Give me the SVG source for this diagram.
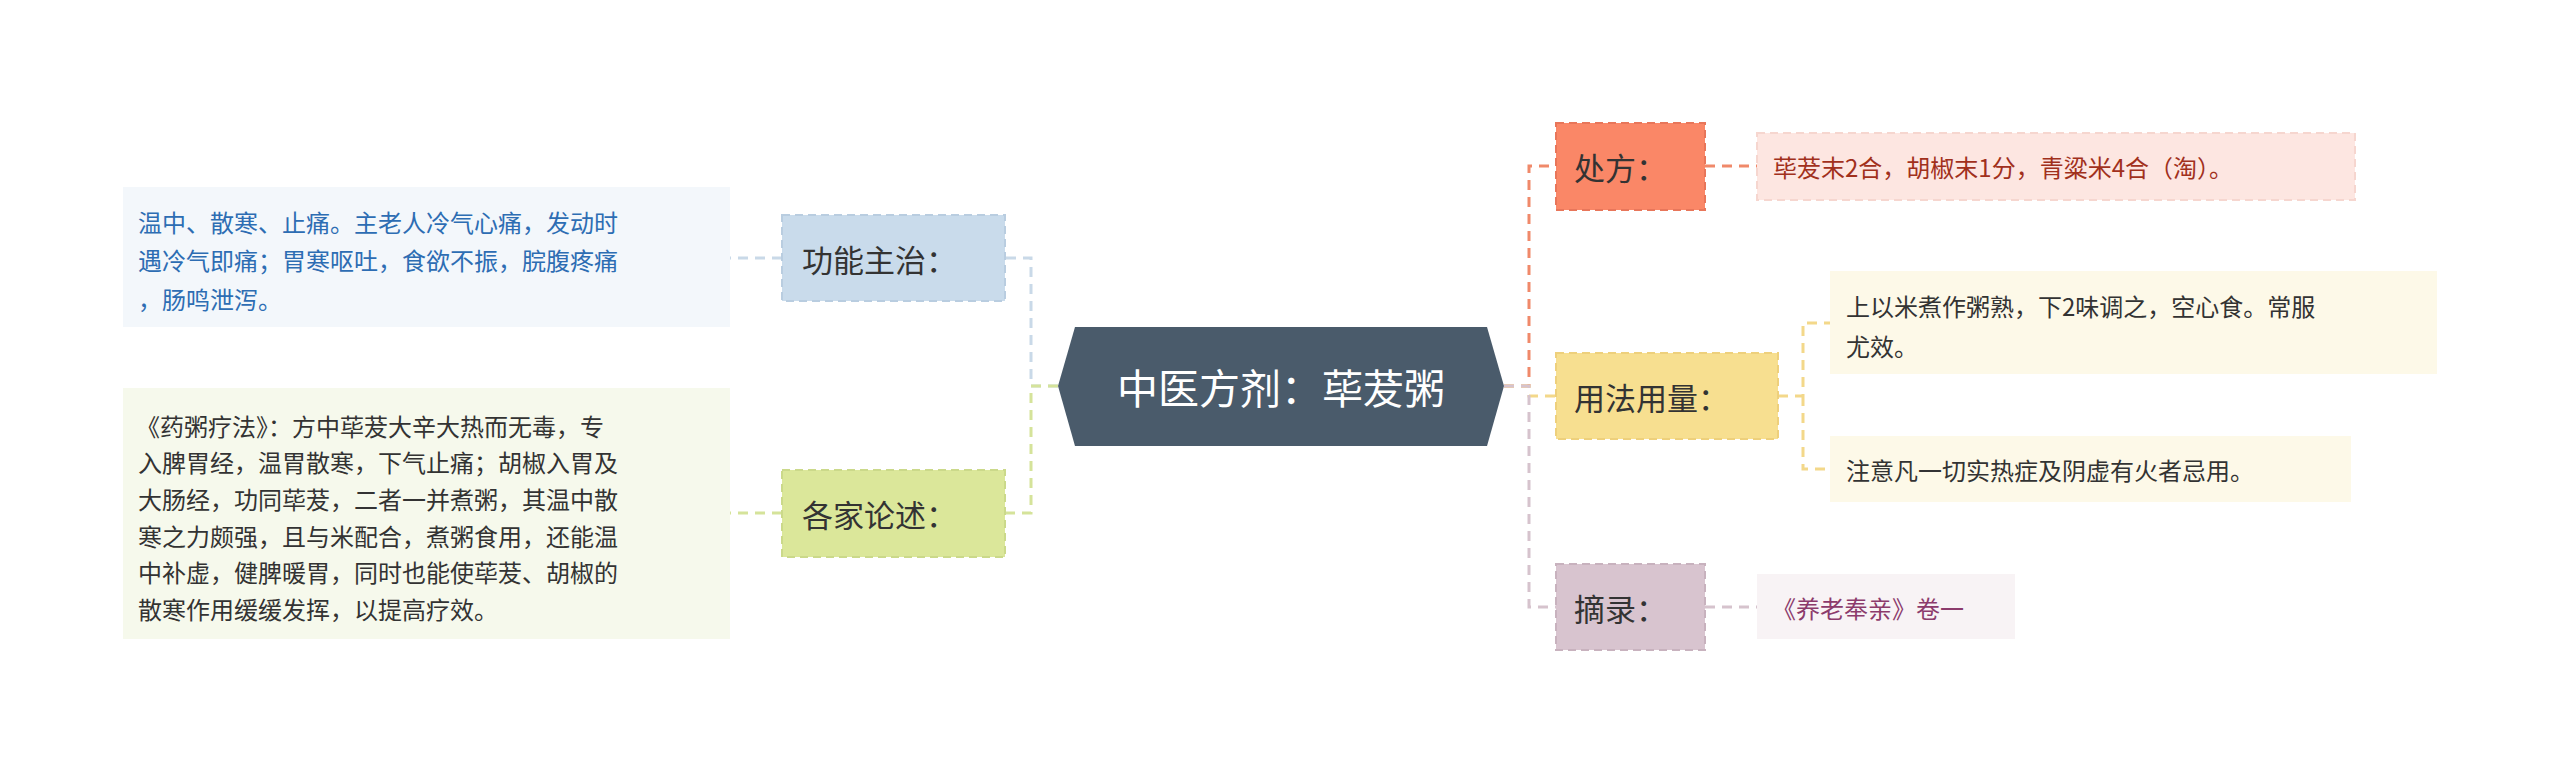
<svg xmlns="http://www.w3.org/2000/svg" width="2560" height="774" viewBox="0 0 2560 774">
<style>
text{font-family:"Noto Sans CJK SC","Noto Sans",sans-serif;dominant-baseline:central}
.n{font-size:31px;fill:#333}
.t{font-size:24px}
.c{fill:none;stroke-width:3;stroke-dasharray:10 7}
.b{stroke-width:2;stroke-dasharray:8 5}
</style>
<rect width="2560" height="774" fill="#fff"/>
<g id="connectors">
<path class="c" stroke="#c9d9e8" d="M1058 386H1031V258H1005"/>
<path class="c" stroke="#d5e39a" d="M1058 386H1031V513H1005"/>
<path class="c" stroke="#c9d9e8" d="M782 258H730"/>
<path class="c" stroke="#d5e39a" d="M782 513H730"/>
<path class="c" stroke="#f0896a" d="M1504 386H1529V166H1556"/>
<path class="c" stroke="#f3d88a" d="M1504 386H1529V396H1556"/>
<path class="c" stroke="#d6c3cd" d="M1504 386H1529V607H1556"/>
<path class="c" stroke="#f0896a" d="M1705 166H1757"/>
<path class="c" stroke="#d6c3cd" d="M1705 607H1757"/>
<path class="c" stroke="#f3d88a" d="M1778 396H1803V323H1830M1803 396V469H1830"/>
</g>
<g id="center">
<polygon points="1058,386 1075,327 1487,327 1504,386 1487,446 1075,446" fill="#4a5b6b"/>
<text x="1281" y="386" font-size="41" fill="#fff" text-anchor="middle">中医方剂：荜茇粥</text>
</g>
<g id="gongneng">
<rect class="b" x="782" y="215" width="223" height="86" fill="#c9dbeb" stroke="#b9cde0"/>
<text class="n" x="802" y="258">功能主治：</text>
</g>
<g id="gongneng-text">
<rect x="123" y="187" width="607" height="140" fill="#f3f7fb"/>
<text class="t" fill="#2d6db3" x="138" y="221">温中、散寒、止痛。主老人冷气心痛，发动时</text>
<text class="t" fill="#2d6db3" x="138" y="259">遇冷气即痛；胃寒呕吐，食欲不振，脘腹疼痛</text>
<text class="t" fill="#2d6db3" x="138" y="298">，肠鸣泄泻。</text>
</g>
<g id="gejia">
<rect class="b" x="782" y="470" width="223" height="87" fill="#dbe79a" stroke="#cbd98a"/>
<text class="n" x="802" y="513">各家论述：</text>
</g>
<g id="gejia-text">
<rect x="123" y="388" width="607" height="251" fill="#f6f9ec"/>
<g class="t" fill="#333">
<text class="t" x="136" y="425">《药粥疗法》：方中荜茇大辛大热而无毒，专</text>
<text class="t" x="138" y="461">入脾胃经，温胃散寒，下气止痛；胡椒入胃及</text>
<text class="t" x="138" y="498">大肠经，功同荜茇，二者一并煮粥，其温中散</text>
<text class="t" x="138" y="535">寒之力颇强，且与米配合，煮粥食用，还能温</text>
<text class="t" x="138" y="571">中补虚，健脾暖胃，同时也能使荜茇、胡椒的</text>
<text class="t" x="138" y="608">散寒作用缓缓发挥，以提高疗效。</text>
</g>
</g>
<g id="chufang">
<rect class="b" x="1556" y="123" width="149" height="87" fill="#fa8767" stroke="#e8765a"/>
<text class="n" x="1574" y="166">处方：</text>
</g>
<g id="chufang-text">
<rect class="b" x="1757" y="133" width="598" height="67" fill="#fde6e1" stroke="#f6d6cf"/>
<text class="t" fill="#a1301c" x="1773" y="166">荜茇末2合，胡椒末1分，青粱米4合（淘）。</text>
</g>
<g id="yongfa">
<rect class="b" x="1556" y="353" width="222" height="86" fill="#f7df90" stroke="#eed07c"/>
<text class="n" x="1574" y="396">用法用量：</text>
</g>
<g id="yongfa-text1">
<rect x="1830" y="271" width="607" height="103" fill="#fdf9e8"/>
<text class="t" fill="#333" x="1846" y="305">上以米煮作粥熟，下2味调之，空心食。常服</text>
<text class="t" fill="#333" x="1846" y="345">尤效。</text>
</g>
<g id="yongfa-text2">
<rect x="1830" y="436" width="521" height="66" fill="#fdf9e8"/>
<text class="t" fill="#333" x="1846" y="469">注意凡一切实热症及阴虚有火者忌用。</text>
</g>
<g id="zhailu">
<rect class="b" x="1556" y="564" width="149" height="86" fill="#d8c4cf" stroke="#c8b2be"/>
<text class="n" x="1574" y="607">摘录：</text>
</g>
<g id="zhailu-text">
<rect x="1757" y="574" width="258" height="65" fill="#f8f3f5"/>
<text class="t" fill="#8c3b6c" x="1772" y="607">《养老奉亲》卷一</text>
</g>
</svg>
